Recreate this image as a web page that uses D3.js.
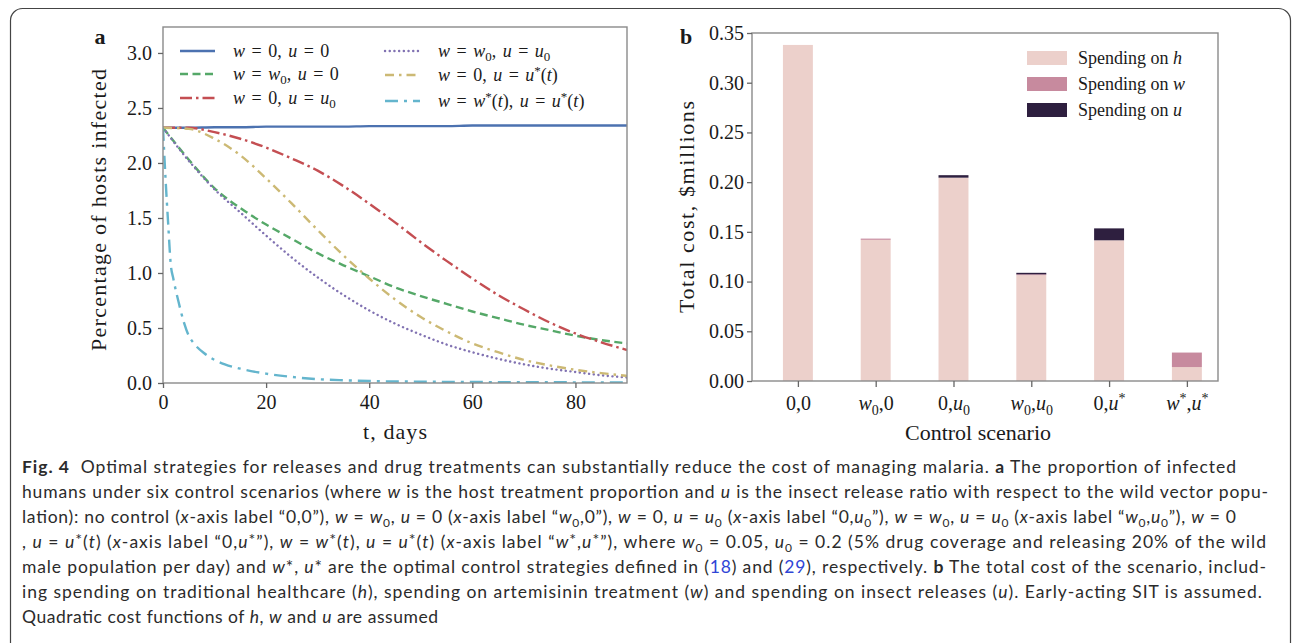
<!DOCTYPE html>
<html>
<head>
<script src="https://cdnjs.cloudflare.com/ajax/libs/d3/7.8.5/d3.min.js"></script>
<style>
  body { margin: 0; background: #fff; }
  svg { display: block; }
  text { white-space: pre; }
  .chart text { font-family: "Liberation Serif", "Times New Roman", serif; fill: #1a1a1a; }
  .caption text { font-family: "Lato", "Open Sans", sans-serif; font-size: 17.5px; fill: #2b2b2b; }
  .frame { fill: none; stroke: #8a8a8a; stroke-width: 1.4; }
  .axis path { display: none; }
  .axis line { stroke: #666; stroke-width: 1.3; }
  .axis text { font-size: 20px; }
  .legend text { font-size: 18px; word-spacing: 2px; }
  .title { font-size: 22px; }
</style>
</head>
<body>
<div id="fig"></div>
<script>
// ---- panel a: percentage of hosts infected over time ----
const days = [0, 5, 10, 15, 20, 25, 30, 35, 40, 45, 50, 55, 60, 65, 70, 75, 80, 85, 90];
const noControl   = [2.32, 2.32, 2.325, 2.325, 2.33, 2.33, 2.33, 2.33, 2.335, 2.335, 2.335, 2.335, 2.34, 2.34, 2.34, 2.34, 2.34, 2.34, 2.34];
const drugOnly    = [2.32, 2.03, 1.77, 1.59, 1.44, 1.31, 1.18, 1.07, 0.97, 0.87, 0.79, 0.72, 0.65, 0.59, 0.53, 0.48, 0.43, 0.39, 0.36];
const releaseOnly = [2.32, 2.32, 2.28, 2.22, 2.14, 2.04, 1.93, 1.79, 1.63, 1.46, 1.28, 1.11, 0.95, 0.80, 0.67, 0.55, 0.45, 0.37, 0.30];
const drugRelease = [2.32, 2.02, 1.76, 1.55, 1.34, 1.14, 0.96, 0.80, 0.66, 0.54, 0.44, 0.35, 0.28, 0.22, 0.17, 0.13, 0.10, 0.07, 0.05];
const optRelease  = [2.32, 2.31, 2.22, 2.07, 1.86, 1.63, 1.39, 1.16, 0.95, 0.76, 0.60, 0.47, 0.36, 0.28, 0.21, 0.16, 0.12, 0.09, 0.065];
const optDays     = [0, 0.5, 1, 1.5, 2, 3, 4, 5, 6, 8, 10, 12, 15, 20, 25, 30, 35, 40, 50, 60, 70, 80, 90];
const optBoth     = [2.32, 1.85, 1.45, 1.08, 0.95, 0.74, 0.56, 0.43, 0.36, 0.27, 0.21, 0.17, 0.13, 0.085, 0.055, 0.035, 0.025, 0.018, 0.012, 0.009, 0.007, 0.006, 0.005];
const seriesLabels = ["~w~ = 0, ~u~ = 0", "~w~ = ~w~_0, ~u~ = 0", "~w~ = 0, ~u~ = ~u~_0",
                      "~w~ = ~w~_0, ~u~ = ~u~_0", "~w~ = 0, ~u~ = ~u~^*(~t~)", "~w~ = ~w~^*(~t~), ~u~ = ~u~^*(~t~)"];
const yTicksA = [0, 0.5, 1, 1.5, 2, 2.5, 3];
const xTicksA = [0, 20, 40, 60, 80];

// ---- panel b: total cost per scenario ----
const scenarios = ["0,0", "~w~_0,0", "0,~u~_0", "~w~_0,~u~_0", "0,~u~^*", "~w~^*,~u~^*"];
const spendH = [0.338, 0.142, 0.2045, 0.1065, 0.1415, 0.014];
const spendW = [0, 0.0012, 0, 0.0008, 0, 0.0146];
const spendU = [0, 0, 0.0025, 0.0015, 0.012, 0];
const spendLabels = ["Spending on ~h~", "Spending on ~w~", "Spending on ~u~"];
const yTicksB = [0, 0.05, 0.10, 0.15, 0.20, 0.25, 0.30, 0.35];

// ---- caption lines (~ italic, # bold, @ link, _ sub, ^ sup) ----
const captionLines = [
  "#Fig. 4#  Optimal strategies for releases and drug treatments can substantially reduce the cost of managing malaria. #a# The proportion of infected",
  "humans under six control scenarios (where ~w~ is the host treatment proportion and ~u~ is the insect release ratio with respect to the wild vector popu-",
  "lation): no control (~x~-axis label “0,0”), ~w~ = ~w~_0, ~u~ = 0 (~x~-axis label “~w~_0,0”), ~w~ = 0, ~u~ = ~u~_0 (~x~-axis label “0,~u~_0”), ~w~ = ~w~_0, ~u~ = ~u~_0 (~x~-axis label “~w~_0,~u~_0”), ~w~ = 0",
  ", ~u~ = ~u~^*(~t~) (~x~-axis label “0,~u~^*”), ~w~ = ~w~^*(~t~), ~u~ = ~u~^*(~t~) (~x~-axis label “~w~^*,~u~^*”), where ~w~_0 = 0.05, ~u~_0 = 0.2 (5% drug coverage and releasing 20% of the wild",
  "male population per day) and ~w~*, ~u~* are the optimal control strategies defined in (@18@) and (@29@), respectively. #b# The total cost of the scenario, includ-",
  "ing spending on traditional healthcare (~h~), spending on artemisinin treatment (~w~) and spending on insect releases (~u~). Early-acting SIT is assumed.",
  "Quadratic cost functions of ~h~, ~w~ and ~u~ are assumed"
];
const captionEnds = [1236, 1268, 1236, 1266, 1266, 1262, 438];

function parseRich(str) {
  const segs = [];
  let it = false, bd = false, ln = false, pos = null;
  for (const c of str) {
    if (c === "~") { it = !it; continue; }
    if (c === "#") { bd = !bd; continue; }
    if (c === "@") { ln = !ln; continue; }
    if (c === "_" || c === "^") { pos = c === "_" ? "sub" : "sup"; continue; }
    const p = pos; pos = null;
    const last = segs[segs.length - 1];
    if (last && last.it === it && last.bd === bd && last.ln === ln && last.pos === p) last.t += c;
    else segs.push({t: c, it, bd, ln, pos: p});
  }
  return segs;
}

function richText(sel, str, o) {
  let shift = 0;
  parseRich(str).forEach(s => {
    const ts = sel.append("tspan").text(s.t);
    if (s.it) ts.style("font-style", "italic");
    if (s.bd) ts.style("font-weight", "bold");
    if (s.ln) ts.style("fill", "#2f45d6");
    const want = s.pos === "sub" ? o.sub : s.pos === "sup" ? -o.sup : 0;
    if (want !== shift) { ts.attr("dy", want - shift); shift = want; }
    if (s.pos === "sub") ts.style("font-size", o.small + "px");
    if (s.pos === "sup") ts.style("font-size", (o.smallSup || o.small) + "px");
  });
}

const svg = d3.select("#fig").append("svg")
  .attr("width", 1292).attr("height", 643);

svg.append("rect").attr("width", 1292).attr("height", 643).attr("fill", "#fff");
svg.append("rect")
  .attr("x", 10.5).attr("y", 8.5).attr("width", 1280).attr("height", 700).attr("rx", 12)
  .attr("fill", "none").attr("stroke", "#444").attr("stroke-width", 1.2);

const chart = svg.append("g").attr("class", "chart");

// ================= panel a =================
const xA = d3.scaleLinear().domain([0, 90]).range([163, 627]);
const yA = d3.scaleLinear().domain([0, 3.236]).range([383, 27]);

chart.append("clipPath").attr("id", "clipA")
  .append("rect").attr("x", 163).attr("y", 27).attr("width", 464).attr("height", 356);

const styles = [
  {color: "#4c72b0", dash: null},
  {color: "#55a868", dash: "8,4.5"},
  {color: "#c44e52", dash: "12,4,2.5,4"},
  {color: "#8172b2", dash: "0.1,4.6"},
  {color: "#ccb974", dash: "9,5,2.5,5"},
  {color: "#64b5cd", dash: "13,6,3,6"}
];

const seriesData = [
  d3.zip(days, noControl),
  d3.zip(days, drugOnly),
  d3.zip(days, releaseOnly),
  d3.zip(days, drugRelease),
  d3.zip(days, optRelease),
  d3.zip(optDays, optBoth)
];

const lineA = d3.line()
  .x(d => xA(d[0])).y(d => yA(d[1]))
  .curve(d3.curveMonotoneX);

const curves = chart.append("g").attr("clip-path", "url(#clipA)");
seriesData.forEach((data, i) => {
  curves.append("path")
    .datum(data)
    .attr("fill", "none")
    .attr("stroke", styles[i].color)
    .attr("stroke-width", 2.4)
    .attr("stroke-linecap", i === 3 ? "round" : "butt")
    .attr("stroke-dasharray", styles[i].dash)
    .attr("d", lineA);
});

chart.append("rect").attr("class", "frame")
  .attr("x", 163).attr("y", 27).attr("width", 464).attr("height", 356);

chart.append("g").attr("class", "axis")
  .attr("transform", "translate(163,0)")
  .call(d3.axisLeft(yA).tickValues(yTicksA).tickFormat(d3.format(".1f")).tickSize(5).tickPadding(6));

chart.append("g").attr("class", "axis")
  .attr("transform", "translate(0,383)")
  .call(d3.axisBottom(xA).tickValues(xTicksA).tickSize(5).tickPadding(7));

chart.append("text").attr("class", "title")
  .attr("transform", "translate(106,210) rotate(-90)")
  .attr("text-anchor", "middle")
  .attr("textLength", 282).attr("lengthAdjust", "spacing")
  .text("Percentage of hosts infected");

chart.append("text").attr("class", "title")
  .attr("x", 395).attr("y", 439).attr("text-anchor", "middle")
  .attr("textLength", 64).attr("lengthAdjust", "spacing")
  .text("t, days");

chart.append("text").attr("x", 100).attr("y", 44)
  .attr("text-anchor", "middle").style("font-weight", "bold").style("font-size", "22px")
  .text("a");

// legend a
const legA = chart.append("g").attr("class", "legend");
const legPos = [
  {x: 180, y: 51}, {x: 180, y: 74}, {x: 180, y: 98},
  {x: 385, y: 51}, {x: 385, y: 75}, {x: 385, y: 101}
];
seriesLabels.forEach((lab, i) => {
  const p = legPos[i];
  legA.append("line")
    .attr("x1", p.x).attr("x2", p.x + 35).attr("y1", p.y).attr("y2", p.y)
    .attr("stroke", styles[i].color).attr("stroke-width", 2.4)
    .attr("stroke-linecap", i === 3 ? "round" : "butt")
    .attr("stroke-dasharray", styles[i].dash);
  const t = legA.append("text").attr("x", p.x + 53).attr("y", p.y + 6);
  richText(t, lab, {sub: 4, sup: 6, small: 13});
});

// ================= panel b =================
const xB = d3.scaleLinear().domain([-0.59, 5.4]).range([752, 1218]);
const yB = d3.scaleLinear().domain([0, 0.35]).range([381, 33]);
const barW = (xB(1) - xB(0)) * 0.385;

const costTable = scenarios.map((s, i) => ({i, h: spendH[i], w: spendW[i], u: spendU[i]}));
const stack = d3.stack().keys(["h", "w", "u"])(costTable);
const barColors = {h: "#ecd0cb", w: "#c78a9e", u: "#2e1f3f"};

chart.append("g").selectAll("g")
  .data(stack).join("g")
    .attr("fill", d => barColors[d.key])
  .selectAll("rect")
  .data(d => d).join("rect")
    .attr("x", d => xB(d.data.i) - barW / 2)
    .attr("width", barW)
    .attr("y", d => yB(d[1]))
    .attr("height", d => Math.max(0, yB(d[0]) - yB(d[1])));

chart.append("rect").attr("class", "frame")
  .attr("x", 752).attr("y", 33).attr("width", 466).attr("height", 348);

chart.append("g").attr("class", "axis")
  .attr("transform", "translate(752,0)")
  .call(d3.axisLeft(yB).tickValues(yTicksB).tickFormat(d3.format(".2f")).tickSize(5).tickPadding(3));

const xAxisB = chart.append("g").attr("class", "axis")
  .attr("transform", "translate(0,381)")
  .call(d3.axisBottom(xB).tickValues(d3.range(scenarios.length))
    .tickFormat(i => scenarios[i]).tickSize(6).tickPadding(9));
xAxisB.selectAll(".tick text").each(function(d) {
  const t = d3.select(this);
  t.text(null);
  richText(t, scenarios[d], {sub: 5, sup: 7, small: 14});
});

chart.append("text").attr("class", "title")
  .attr("transform", "translate(694,207) rotate(-90)")
  .attr("text-anchor", "middle")
  .attr("textLength", 212).attr("lengthAdjust", "spacing")
  .text("Total cost, $millions");

chart.append("text").attr("class", "title")
  .attr("x", 978).attr("y", 440).attr("text-anchor", "middle")
  .attr("textLength", 146).attr("lengthAdjust", "spacing")
  .text("Control scenario");

chart.append("text").attr("x", 686).attr("y", 44)
  .attr("text-anchor", "middle").style("font-weight", "bold").style("font-size", "22px")
  .text("b");

// legend b
const legB = chart.append("g").attr("class", "legend");
["h", "w", "u"].forEach((k, i) => {
  const cy = 58 + i * 26;
  legB.append("rect")
    .attr("x", 1027).attr("y", cy - 7).attr("width", 40).attr("height", 14)
    .attr("fill", barColors[k]);
  const t = legB.append("text").attr("x", 1078).attr("y", cy + 6).style("word-spacing", "0px");
  richText(t, spendLabels[i], {sub: 4, sup: 6, small: 13});
});

// ================= caption =================
const cap = svg.append("g").attr("class", "caption");
captionLines.forEach((line, i) => {
  const t = cap.append("text").attr("x", 22).attr("y", 473 + i * 25);
  if (captionEnds[i]) t.attr("textLength", captionEnds[i] - 22).attr("lengthAdjust", "spacing");
  richText(t, line, {sub: 4, sup: 3, small: 12, smallSup: 16});
});
</script>
</body>
</html>
